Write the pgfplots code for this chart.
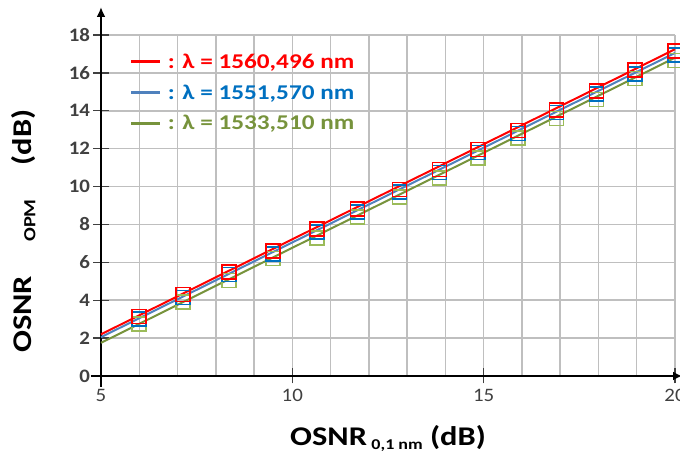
\documentclass[border=0pt]{standalone}
\usepackage{pgfplots}
\pgfplotsset{compat=1.18}
\usepackage{fontspec}
\setmainfont{Carlito}
\newfontfamily\labelfont[FakeStretch=1.2]{Carlito}
\newfontfamily\tickfont[FakeStretch=1.1]{Carlito}
\usetikzlibrary{arrows.meta}
\definecolor{tickgray}{HTML}{404040}
\definecolor{gridgray}{HTML}{BFBFBF}
\definecolor{lred}{HTML}{FF0000}
\definecolor{lblue}{HTML}{4F81BD}
\definecolor{lgreen}{HTML}{77933C}
\definecolor{mblue}{HTML}{0070C0}
\definecolor{mgreen}{HTML}{9BBB59}
\definecolor{tblue}{HTML}{0070C0}
\definecolor{tgreen}{HTML}{77933C}
\begin{document}
\begin{tikzpicture}
\path[use as bounding box] (-101pt,-81pt) rectangle (579pt,376pt);
\begin{axis}[
  at={(0pt,0pt)}, anchor=south west,
  scale only axis, width=574pt, height=341pt,
  xmin=5, xmax=20, ymin=0, ymax=18,
  clip=false,
  axis lines=left,
  x axis line style={line width=2.5pt, -{Latex[length=9pt,width=9pt]}, shorten >=-7pt, shorten <=-10pt},
  y axis line style={line width=2.5pt, -{Latex[length=10pt,width=9pt]}, shorten >=-28pt, shorten <=-11pt},
  xtick={5,10,15,20}, ytick={0,2,...,18},
  minor x tick num=4,
  grid=both,
  major grid style={draw=gridgray, line width=1.5pt},
  minor grid style={draw=gridgray, line width=1.5pt},
  tick align=center,
  major tick length=15pt, minor tick length=0pt,
  tick style={draw=tickgray, line width=1.4pt},
  /pgf/number format/assume math mode=true,
  xticklabel style={font=\tickfont\fontsize{19}{19}\selectfont, text=tickgray, yshift=-2pt},
  yticklabel style={font=\tickfont\fontsize{19}{19}\selectfont\bfseries, text=tickgray},
  xlabel={OSNR\,\raisebox{-4pt}{\fontsize{15}{15}\selectfont 0,1 nm} (dB)},
  ylabel={OSNR\hspace{34pt}\raisebox{-4pt}{\fontsize{17}{17}\selectfont OPM}\hspace{34pt}(dB)},
  xlabel style={font=\labelfont\fontsize{27}{27}\selectfont\bfseries, at={(rel axis cs:0.5,-0.205)}, anchor=base},
  ylabel style={font=\labelfont\fontsize{27}{27}\selectfont\bfseries, at={(rel axis cs:-0.135,0.425)}, anchor=center},
  legend style={at={(rel axis cs:0.05,0.952)}, anchor=north west, draw=none, fill=none,
    font=\labelfont\fontsize{21}{21}\selectfont\bfseries, row sep=11pt, inner sep=0pt,
    nodes={inner xsep=6pt}},
  legend cell align=left,
  legend image code/.code={\draw[#1, line width=3pt] (0pt,0pt) -- (29pt,0pt);},
  reverse legend,
]
% markers
\addplot[only marks, mark=square, mark size=7pt, mark options={draw=mgreen, line width=1.6pt}, forget plot]
  coordinates {(6.0,2.75) (7.15,3.9) (8.35,5.05) (9.5,6.2) (10.65,7.3) (11.7,8.4) (12.8,9.45) (13.85,10.45) (14.85,11.5) (15.9,12.55) (16.9,13.6) (17.95,14.6) (18.95,15.7) (20.0,16.65)};
\addplot[only marks, mark=square, mark size=7pt, mark options={draw=mblue, line width=1.6pt}, forget plot]
  coordinates {(6.0,3.0) (7.15,4.15) (8.35,5.35) (9.5,6.45) (10.65,7.6) (11.7,8.65) (12.8,9.7) (13.85,10.75) (14.85,11.8) (15.9,12.8) (16.9,13.9) (17.95,14.9) (18.95,15.95) (20.0,16.95)};
\addplot[only marks, mark=square, mark size=7pt, mark options={draw=lred, line width=1.6pt}, forget plot]
  coordinates {(6.0,3.15) (7.15,4.3) (8.35,5.5) (9.5,6.6) (10.65,7.75) (11.7,8.8) (12.8,9.85) (13.85,10.9) (14.85,11.95) (15.9,12.95) (16.9,14.05) (17.95,15.05) (18.95,16.15) (20.0,17.15)};
% fitted lines
\addplot[lgreen, line width=2pt, mark=none] coordinates {(5,1.75) (20,16.8)};
\addlegendentry{\textcolor{tgreen}{: λ = 1533,510 nm}}
\addplot[lblue, line width=2pt, mark=none] coordinates {(5,2.05) (20,17.05)};
\addlegendentry{\textcolor{tblue}{: λ = 1551,570 nm}}
\addplot[lred, line width=2pt, mark=none] coordinates {(5,2.2) (20,17.25)};
\addlegendentry{\textcolor{lred}{: λ = 1560,496 nm}}
\end{axis}
\end{tikzpicture}
\end{document}
